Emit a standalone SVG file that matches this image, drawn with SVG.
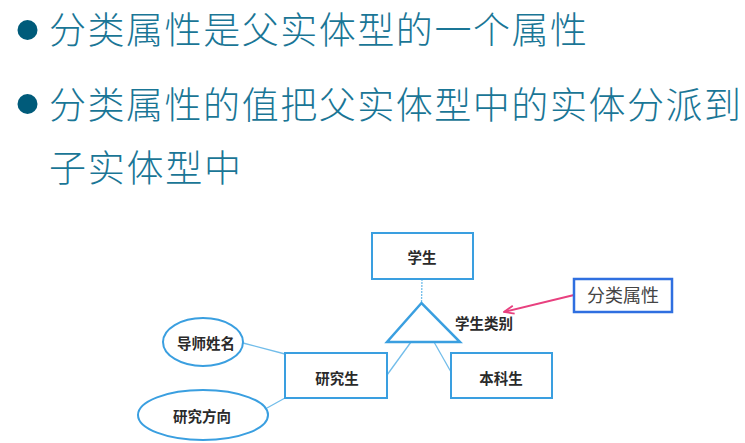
<svg xmlns="http://www.w3.org/2000/svg" width="745" height="443" viewBox="0 0 745 443">
<style>
.title{font-family:"Noto Sans CJK SC","Noto Sans CJK JP",sans-serif;font-size:37px;font-weight:300;fill:#1a7696;}
.bul{fill:#005b7a;}
.box{fill:#ffffff;stroke:#3a9fe0;stroke-width:2;}
.conn{fill:none;stroke:#72bdea;stroke-width:1.3;}
.lbl{font-family:"Noto Sans CJK SC","Noto Sans CJK JP",sans-serif;font-size:14.5px;font-weight:bold;fill:#2a2a2a;text-anchor:middle;}
</style>
<defs>
<marker id="arr" viewBox="0 0 12 10" refX="11" refY="5" markerWidth="12" markerHeight="10" markerUnits="userSpaceOnUse" orient="auto">
<path d="M1,1 L11,5 L1,9" fill="none" stroke="#e8407f" stroke-width="1.8"/>
</marker>
</defs>
<rect width="745" height="443" fill="#ffffff"/>
<g id="text">
<circle class="bul" cx="27.5" cy="30" r="10"/>
<text class="title" x="49" y="44" textLength="538">分类属性是父实体型的一个属性</text>
<circle class="bul" cx="27.5" cy="104" r="10"/>
<text class="title" x="49" y="119" textLength="692">分类属性的值把父实体型中的实体分派到</text>
<text class="title" x="49" y="182" textLength="192">子实体型中</text>
</g>
<g id="connectors">
<line class="conn" x1="422" y1="279" x2="421.5" y2="303" stroke-dasharray="2,1"/>
<line class="conn" x1="411" y1="342" x2="387" y2="375"/>
<line class="conn" x1="434" y1="342" x2="451" y2="372"/>
<line class="conn" x1="243" y1="343" x2="285" y2="354"/>
<line class="conn" x1="267" y1="408" x2="285" y2="398"/>
<line x1="574" y1="295" x2="504" y2="312" stroke="#e8407f" stroke-width="2" marker-end="url(#arr)"/>
</g>
<g id="student">
<rect class="box" x="372" y="233" width="101" height="46"/>
<text class="lbl" x="422" y="263">学生</text>
</g>
<g id="isa">
<polygon points="421.5,303 387,342 460,342" fill="#ffffff" stroke="#3a9fe0" stroke-width="2.5" stroke-linejoin="miter"/>
</g>
<g id="category">
<text class="lbl" x="484" y="329">学生类别</text>
</g>
<g id="grad">
<rect class="box" x="285" y="353" width="102" height="45"/>
<text class="lbl" x="337" y="384">研究生</text>
</g>
<g id="undergrad">
<rect class="box" x="451" y="353" width="101" height="45"/>
<text class="lbl" x="501" y="384">本科生</text>
</g>
<g id="advisor">
<ellipse class="box" cx="203" cy="342" rx="40" ry="24"/>
<text class="lbl" x="206" y="349">导师姓名</text>
</g>
<g id="direction">
<ellipse class="box" cx="203" cy="415" rx="65" ry="25"/>
<text class="lbl" x="202" y="422">研究方向</text>
</g>
<g id="attr">
<rect x="574" y="279" width="98" height="33" fill="#ffffff" stroke="#2f6fe0" stroke-width="2.5"/>
<text x="623" y="302" font-family="Noto Sans CJK SC, sans-serif" font-size="18" fill="#444444" text-anchor="middle">分类属性</text>
</g>
</svg>
